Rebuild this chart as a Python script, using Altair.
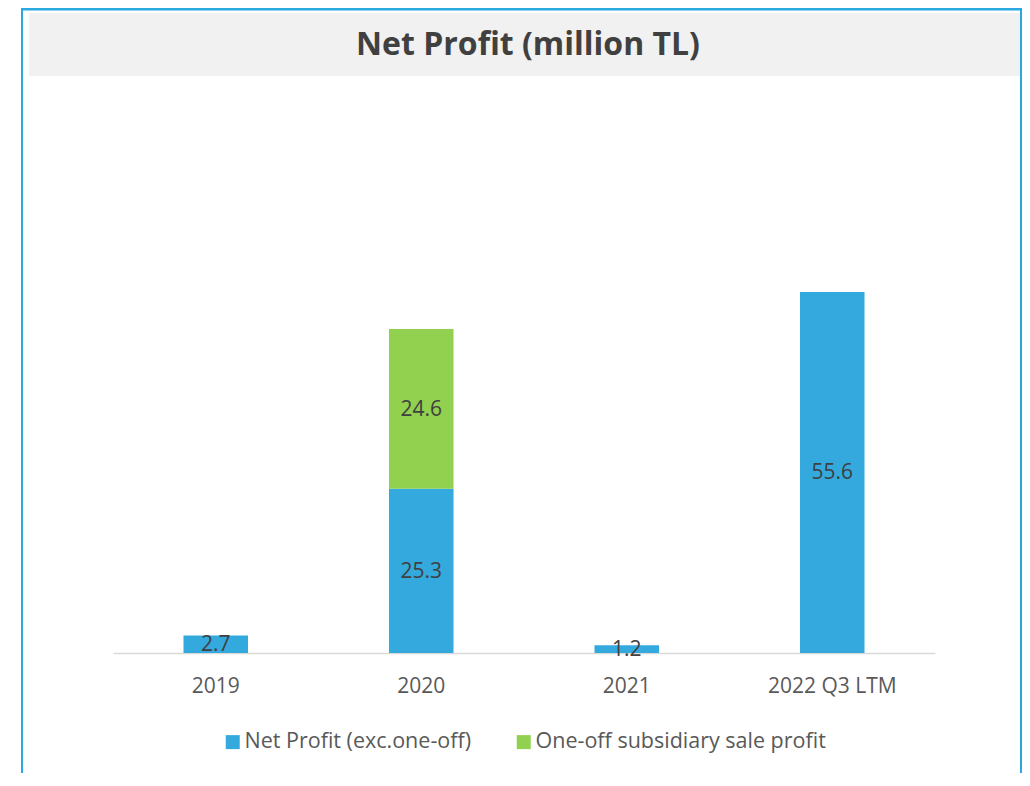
import altair as alt
import pandas as pd

categories = ["2019", "2020", "2021", "2022 Q3 LTM"]
net_profit = [2.7, 25.3, 1.2, 55.6]
one_off = [0.0, 24.6, 0.0, 0.0]
series = ["Net Profit (exc.one-off)", "One-off subsidiary sale profit"]
colors = ["#34A9DE", "#92D050"]
title_text = "Net Profit (million TL)"

rows = []
for c, a, b in zip(categories, net_profit, one_off):
    rows.append({"cat": c, "series": series[0], "value": a, "ord": 0})
    rows.append({"cat": c, "series": series[1], "value": b, "ord": 1})
df = pd.DataFrame(rows)

W, H = 822, 552
BLUE_BORDER = "#2AA8E0"
FONT = "Open Sans"

x_enc = alt.X(
    "cat:N",
    sort=categories,
    scale=alt.Scale(paddingInner=0.686, paddingOuter=0.343),
    axis=alt.Axis(
        title=None, labelAngle=0, ticks=False, grid=False,
        domainColor="#D9D9D9", domainWidth=1.5,
        labelFont=FONT, labelFontSize=21, labelColor="#595959",
        labelPadding=22,
    ),
)

base = (
    alt.Chart(df)
    .transform_filter("datum.value > 0")
    .transform_stack(stack="value", groupby=["cat"], as_=["y0", "y1"],
                     sort=[alt.SortField("ord", order="ascending")])
    .transform_calculate(mid="(datum.y0 + datum.y1) / 2")
)

bars = base.mark_bar().encode(
    x=x_enc,
    y=alt.Y("y1:Q", scale=alt.Scale(domain=[0, 85], nice=False, zero=True), axis=None),
    y2="y0:Q",
    color=alt.Color(
        "series:N",
        scale=alt.Scale(domain=series, range=colors),
        legend=alt.Legend(
            title=None, orient="none", legendX=109, legendY=630,
            direction="horizontal", symbolType="square", symbolSize=196,
            symbolStrokeWidth=0, labelFont=FONT, labelFontSize=21.5,
            labelColor="#595959", columnPadding=41, labelOffset=1,
            labelLimit=400,
        ),
    ),
)

labels = base.mark_text(font=FONT, fontSize=21, color="#404040", baseline="middle", dy=1).encode(
    x=alt.X("cat:N", sort=categories),
    y=alt.Y("mid:Q"),
    text=alt.Text("value:Q", format=".1f"),
)

one = alt.Data(values=[{}])

band = alt.Chart(one).mark_rect(color="#F1F1F1").encode(
    x=alt.value(-84), x2=alt.value(909), y=alt.value(-88), y2=alt.value(-25)
)
title = alt.Chart(one).mark_text(
    font=FONT, fontSize=32, fontWeight="bold", color="#404040",
    baseline="middle", align="center",
).encode(x=alt.value(415), y=alt.value(-56), text=alt.value(title_text))

left_border = alt.Chart(one).mark_rule(color=BLUE_BORDER, strokeWidth=2).encode(
    x=alt.value(-91), y=alt.value(-93), y2=alt.value(680)
)
right_border = alt.Chart(one).mark_rule(color=BLUE_BORDER, strokeWidth=2).encode(
    x=alt.value(908), y=alt.value(-93), y2=alt.value(680)
)
top_border = alt.Chart(one).mark_rule(color=BLUE_BORDER, strokeWidth=3).encode(
    x=alt.value(-92), x2=alt.value(909), y=alt.value(-92)
)

chart = (
    alt.layer(band, left_border, right_border, top_border, title, bars, labels)
    .properties(
        width=W, height=H,
        autosize=alt.AutoSizeParams(type="none"),
        padding={"left": 105, "top": 93, "right": 87, "bottom": 120},
    )
    .configure_view(stroke=None)
)

chart.save("out.html", embed_options={"renderer": "svg", "actions": False})
